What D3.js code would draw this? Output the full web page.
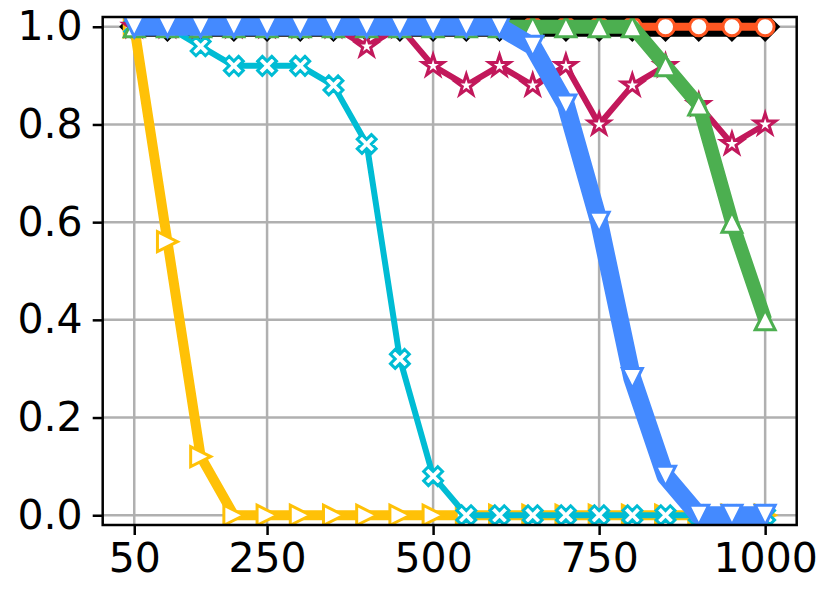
<!DOCTYPE html>
<html>
<head>
<meta charset="utf-8">
<script src="https://cdn.jsdelivr.net/npm/d3@7"></script>
<style>
  html, body { margin: 0; padding: 0; background: #fff; }
  svg { display: block; }
  text { font-family: "DejaVu Sans", sans-serif; }
</style>
</head>
<body>
<svg id="chart" width="832" height="600"></svg>
<script>
// ---- data ----
const xValues = [50,100,150,200,250,300,350,400,450,500,550,600,650,700,750,800,850,900,950,1000];
const xTicks = [50, 250, 500, 750, 1000];
const yTicks = [0.0, 0.2, 0.4, 0.6, 0.8, 1.0];

const blackSeries   = [1,1,1,1,1,1,1,1,1,1,1,1,1,1,1,1,1,1,1,1];
const orangeSeries  = [1,1,1,1,1,1,1,1,1,1,1,1,1,1,1,1,1,1,1,1];
const yellowSeries  = [1.0,0.56,0.12,0,0,0,0,0,0,0,0,0,0,0,0,0,0,0,0,0];
const cyanSeries    = [1.0,1.0,0.96,0.92,0.92,0.92,0.88,0.76,0.32,0.08,0,0,0,0,0,0,0,0,0,0];
const crimsonSeries = [1,1,1,1,1,1,1,0.96,1.0,0.92,0.88,0.92,0.88,0.92,0.80,0.88,0.92,0.84,0.76,0.80];
const greenSeries   = [1,1,1,1,1,1,1,1,1,1,1,1,1,1,1,1,0.92,0.84,0.60,0.40];
const blueSeries    = [1,1,1,1,1,1,1,1,1,1,1,1,0.96,0.84,0.60,0.28,0.08,0,0,0];

const series = [
  { values: blackSeries,   color: "#000000", width: 20, marker: "diamond", fill: "#000000" },
  { values: orangeSeries,  color: "#FF5722", width: 8,  marker: "circle",  fill: "#ffffff" },
  { values: yellowSeries,  color: "#FFC107", width: 10, marker: "triRight", fill: "#ffffff" },
  { values: cyanSeries,    color: "#00BCD4", width: 6,  marker: "xfilled", fill: "#ffffff" },
  { values: crimsonSeries, color: "#C2185B", width: 6,  marker: "star",    fill: "#ffffff" },
  { values: greenSeries,   color: "#4CAF50", width: 14, marker: "triUp",   fill: "#ffffff" },
  { values: blueSeries,    color: "#448AFF", width: 18, marker: "triDown", fill: "#ffffff" }
];

// ---- layout ----
const svg = d3.select("#chart");
const L = 102.7, R = 796.7, T = 17, B = 525;
const x = d3.scaleLinear().domain([2.5, 1047.5]).range([L, R]);
const y = d3.scaleLinear().domain([-0.02, 1.02]).range([B, T]);

svg.append("defs").append("clipPath").attr("id", "clip")
  .append("rect").attr("x", L).attr("y", T).attr("width", R - L).attr("height", B - T);

// grid
const grid = svg.append("g");
grid.selectAll(".gx").data(xTicks).enter().append("line")
  .attr("x1", d => x(d)).attr("x2", d => x(d)).attr("y1", T).attr("y2", B)
  .attr("stroke", "#b0b0b0").attr("stroke-width", 2.5);
grid.selectAll(".gy").data(yTicks).enter().append("line")
  .attr("x1", L).attr("x2", R).attr("y1", d => y(d)).attr("y2", d => y(d))
  .attr("stroke", "#b0b0b0").attr("stroke-width", 2.5);

// marker paths
function markerPath(type) {
  const s = 10;
  switch (type) {
    case "circle": return d3.arc()({innerRadius: 0, outerRadius: 9, startAngle: 0, endAngle: 2 * Math.PI});
    case "triUp": return `M0,${-s}L${s},${s}L${-s},${s}Z`;
    case "triDown": return `M0,${s}L${s},${-s}L${-s},${-s}Z`;
    case "triRight": return `M${s},0L${-s},${s}L${-s},${-s}Z`;
    case "diamond": { const h = 13; return `M0,${-h}L${h},0L0,${h}L${-h},0Z`; }
    case "star": {
      const Ro = 11, Ri = Ro * 0.381966; let p = "";
      for (let i = 0; i < 10; i++) {
        const r = i % 2 === 0 ? Ro : Ri;
        const a = -Math.PI / 2 + i * Math.PI / 5;
        p += (i === 0 ? "M" : "L") + (r * Math.cos(a)).toFixed(2) + "," + (r * Math.sin(a)).toFixed(2);
      }
      return p + "Z";
    }
    case "xfilled": {
      const a = 10, w = 10 / 3; // plus with arm half-length a and half-width w, rotated 45
      const pts = [[-w,-a],[w,-a],[w,-w],[a,-w],[a,w],[w,w],[w,a],[-w,a],[-w,w],[-a,w],[-a,-w],[-w,-w]];
      const c = Math.SQRT1_2;
      return "M" + pts.map(([px, py]) => ((px - py) * c).toFixed(2) + "," + ((px + py) * c).toFixed(2)).join("L") + "Z";
    }
  }
}

const plot = svg.append("g").attr("clip-path", "url(#clip)");
const line = d3.line().x((d, i) => x(xValues[i])).y(d => y(d));

series.forEach(s => {
  const g = plot.append("g");
  g.append("path").datum(s.values).attr("d", line)
    .attr("fill", "none").attr("stroke", s.color).attr("stroke-width", s.width)
    .attr("stroke-linejoin", "round").attr("stroke-linecap", "butt");
  const mp = markerPath(s.marker);
  g.selectAll("path.m").data(s.values).enter().append("path").attr("class", "m")
    .attr("d", mp)
    .attr("transform", (d, i) => `translate(${x(xValues[i])},${y(d)})`)
    .attr("fill", s.fill).attr("stroke", s.color).attr("stroke-width", 3)
    .attr("stroke-linejoin", "miter");
});

// spines
svg.append("rect").attr("x", L).attr("y", T).attr("width", R - L).attr("height", B - T)
  .attr("fill", "none").attr("stroke", "#000").attr("stroke-width", 2.5);

// axes
const xAxis = d3.axisBottom(x).tickValues(xTicks).tickFormat(d3.format("d")).tickSize(10).tickPadding(8);
const yAxis = d3.axisLeft(y).tickValues(yTicks).tickFormat(d3.format(".1f")).tickSize(10).tickPadding(10);
const gx = svg.append("g").attr("transform", `translate(0,${B})`).call(xAxis);
const gy = svg.append("g").attr("transform", `translate(${L},0)`).call(yAxis);
[gx, gy].forEach(g => {
  g.select(".domain").remove();
  g.selectAll(".tick line").attr("stroke", "#000").attr("stroke-width", 2.5);
  g.selectAll(".tick text").attr("fill", "#000").style("font-size", "41px")
    .style("font-family", "'DejaVu Sans', sans-serif");
});
</script>
</body>
</html>
